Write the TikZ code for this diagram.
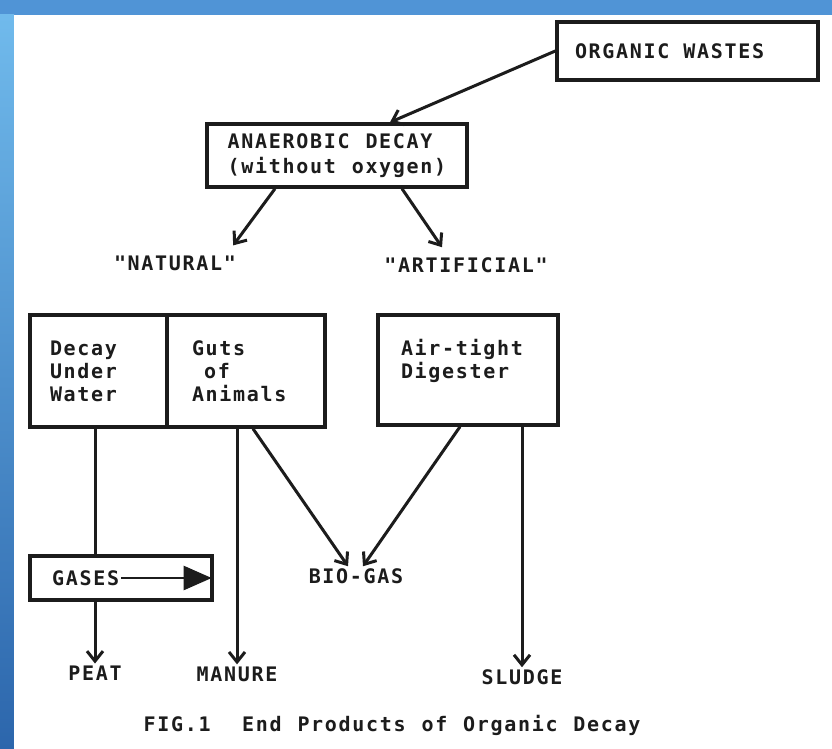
\documentclass[tikz,border=0pt]{standalone}
\usepackage{fontspec}
\newfontfamily\typewfont[LetterSpace=8.5, WordSpace=1.15]{DejaVu Sans Mono}
\usetikzlibrary{positioning, arrows.meta, calc}

\definecolor{slideblue}{RGB}{80,148,214}
\definecolor{slidelight}{RGB}{112,186,236}
\definecolor{slidedark}{RGB}{44,102,172}
\definecolor{inkgray}{RGB}{28,28,28}

\begin{document}
\begin{tikzpicture}[
        % coordinate in pixel, asse y verso il basso
        x=1pt, y=-1pt,
        every node/.style={font=\typewfont\bfseries\fontsize{20}{23}\selectfont, text=inkgray, inner sep=2pt},
        box/.style={draw=inkgray, line width=3.4pt, align=left},
        arr/.style={draw=inkgray, line width=3pt, -{Straight Barb[length=10pt,width=16pt]}},
        plain/.style={draw=inkgray, line width=3pt},
        bigarr/.style={draw=inkgray, line width=2.4pt, -{Triangle[length=28pt,width=24pt]}}
    ]
    % sfondo della diapositiva
    \fill[slideblue] (0,0) rectangle (832,749);
    \shade[top color=slidelight, bottom color=slidedark] (0,15) rectangle (14,749);
    \fill[white] (14,15) rectangle (832,749);
    \useasboundingbox (0,0) rectangle (832,749);

    % riquadri
    \node[box, text width=225pt, inner xsep=18pt, minimum height=58pt] (organic) at (687.5,51) {ORGANIC\hspace{0.7em}WASTES};
    \node[box, minimum width=260pt, minimum height=63pt,
          font=\typewfont\bfseries\fontsize{20}{25}\selectfont] (anaerobic) at (337,155.5) {ANAEROBIC DECAY\\(without oxygen)};

    \node (natural) at (175,263) {"NATURAL"};
    \node (artificial) at (466,265) {"ARTIFICIAL"};

    \node[box, text width=97pt, inner xsep=20pt, minimum height=112pt] (decay) at (98.5,371) {Decay\\Under\\Water};
    \node[box, text width=108pt, inner xsep=25pt, minimum height=112pt] (guts) at (246,371) {Guts\\\phantom{G}of\\Animals};
    \node[box, text width=134pt, inner xsep=23pt, minimum height=110pt] (digester) at (468,370) {\mbox{Air-tight}\\Digester\\\mbox{}};

    \node[draw=inkgray, line width=3.4pt, minimum width=182pt, minimum height=44pt] (gasesbox) at (121,578) {};
    \node[anchor=west] (gaseslbl) at (50,578) {GASES};

    % prodotti finali
    \node (peat) at (95,673) {PEAT};
    \node (manure) at (237,674) {MANURE};
    \node (biogas) at (356,576) {BIO-GAS};
    \node (sludge) at (522,677) {SLUDGE};
    \node (caption) at (392,725) {FIG.1\ \ End Products of Organic Decay};

    % collegamenti
    \draw[arr] (organic.west) -- ([xshift=53pt]anaerobic.north);
    \draw[arr] ([xshift=-62pt]anaerobic.south) -- ([xshift=-5pt,yshift=8pt]natural.north east);
    \draw[arr] ([xshift=65pt]anaerobic.south) -- ([xshift=-24pt,yshift=8pt]artificial.north);
    \draw[plain] (peat.north |- decay.south) -- (peat.north |- gasesbox.north);
    \draw[bigarr, shorten >=2pt] (gaseslbl.east) -- (gasesbox.east);
    \draw[arr] (peat.north |- gasesbox.south) -- (peat.north);
    \draw[arr] (manure.north |- guts.south) -- (manure.north);
    \draw[arr] ([xshift=7pt]guts.south) -- ([xshift=-8pt]biogas.north);
    \draw[arr] ([xshift=-8pt]digester.south) -- ([xshift=7pt]biogas.north);
    \draw[arr] (sludge.north |- digester.south) -- (sludge.north);
\end{tikzpicture}
\end{document}
